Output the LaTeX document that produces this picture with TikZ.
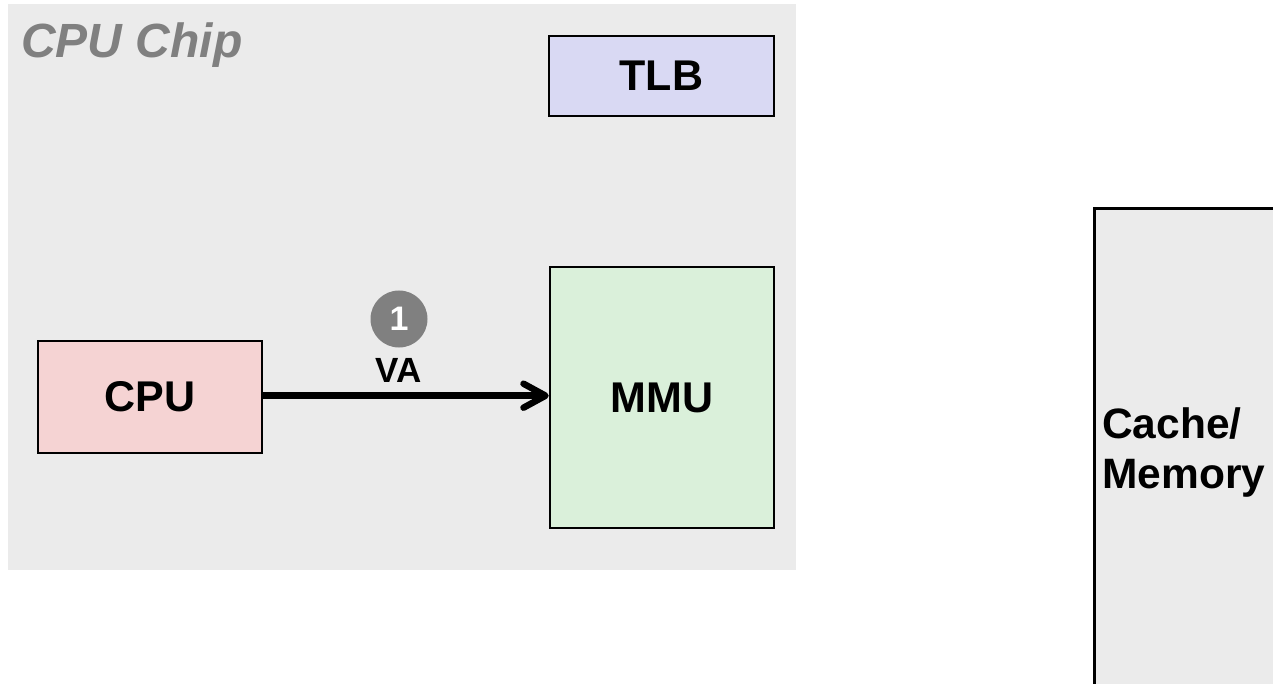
\documentclass[tikz,border=0pt]{standalone}
\usepackage{fontspec}
\setmainfont{Liberation Sans}
\usetikzlibrary{arrows.meta}
\definecolor{chipgray}{HTML}{EBEBEB}
\definecolor{tlbfill}{HTML}{D9D9F3}
\definecolor{mmufill}{HTML}{DAF0DA}
\definecolor{cpufill}{HTML}{F5D3D3}
\definecolor{stepgray}{HTML}{808080}
\tikzset{
  unitbox/.style={draw=black, line width=2.5pt, inner sep=0pt, font=\bfseries\fontsize{43}{48}\selectfont},
  steplabel/.style={circle, fill=stepgray, inner sep=0pt, minimum size=57pt, text=white, font=\bfseries\fontsize{34}{38}\selectfont},
  conn/.style={line width=6.5pt, -{Straight Barb[length=22pt, width=24pt, line cap=round, line join=round]}},
}
\begin{document}
\begin{tikzpicture}[x=1pt,y=-1pt]
\clip (0,0) rectangle (1273,684);
\fill[white] (0,0) rectangle (1273,684);
\fill[chipgray] (8,4) rectangle (796,570);
\node[anchor=base west, text=stepgray, font=\bfseries\itshape\fontsize{48}{52}\selectfont, inner sep=0pt] (chiplabel) at (21,58) {CPU Chip};
\node[unitbox, fill=tlbfill, minimum width=225pt, minimum height=80pt] (tlb) at (661.5,76) {TLB};
\node[unitbox, fill=mmufill, minimum width=224pt, minimum height=261pt] (mmu) at (662,397.5) {MMU};
\node[unitbox, fill=cpufill, minimum width=224pt, minimum height=112pt] (cpu) at (150,397) {CPU};
\draw[conn] (cpu.east |- 0,395.7) -- (mmu.west |- 0,395.7);
\node[steplabel] (s1) at (399,319) {1};
\node[font=\bfseries\fontsize{35}{40}\selectfont, inner sep=0pt] (va) at (399,370.5) {VA};
\node[draw=black, line width=3pt, fill=chipgray, minimum width=240pt, minimum height=520pt, anchor=north west, inner sep=0pt] (mem) at (1092.5,207) {};
\node[anchor=west, align=left, inner sep=0pt, font=\bfseries\fontsize{42.5}{50}\selectfont] (memlabel) at (1102,453) {Cache/\\Memory};
\end{tikzpicture}
\end{document}
